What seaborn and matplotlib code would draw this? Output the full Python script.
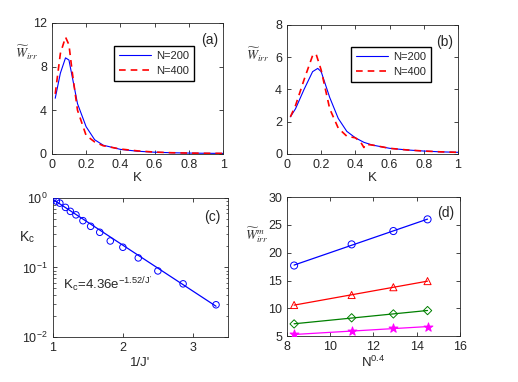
import numpy as np
import pandas as pd
import matplotlib
matplotlib.use("Agg")
import matplotlib.pyplot as plt
import seaborn as sns

sns.set_style("ticks")
plt.rcParams["font.family"] = ["Liberation Sans", "DejaVu Sans"]
plt.rcParams["mathtext.fontset"] = "stix"
plt.rcParams["font.size"] = 8.5

# panel (a)
k_a = [0.02, 0.05, 0.08, 0.10, 0.12, 0.15, 0.20, 0.25, 0.30, 0.40, 0.50, 0.60, 0.70, 0.80, 0.90, 1.00]
w_a_200 = [5.1, 7.4, 8.8, 8.6, 7.0, 4.6, 2.5, 1.3, 0.8, 0.42, 0.25, 0.16, 0.11, 0.08, 0.06, 0.05]
w_a_400 = [5.5, 9.2, 10.7, 10.0, 7.4, 4.0, 1.7, 1.1, 0.75, 0.45, 0.28, 0.17, 0.11, 0.08, 0.06, 0.05]

# panel (b)
k_b = [0.02, 0.05, 0.10, 0.15, 0.18, 0.20, 0.25, 0.30, 0.35, 0.40, 0.45, 0.50, 0.60, 0.70, 0.80, 0.90, 1.00]
w_b_200 = [2.3, 2.8, 4.0, 5.1, 5.3, 5.1, 3.5, 2.2, 1.4, 1.0, 0.72, 0.55, 0.35, 0.25, 0.18, 0.13, 0.1]
k_b4 = [0.02, 0.05, 0.10, 0.15, 0.17, 0.20, 0.25, 0.30, 0.35, 0.40, 0.43, 0.45, 0.46, 0.50, 0.60, 0.70, 0.80, 0.90, 1.00]
w_b_400 = [2.3, 3.0, 4.6, 6.1, 6.2, 5.2, 2.8, 1.6, 1.1, 1.0, 0.75, 0.4, 0.6, 0.55, 0.35, 0.25, 0.18, 0.13, 0.1]

# panel (c)
inv_j = [1.0, 1.05, 1.1, 1.18, 1.25, 1.33, 1.43, 1.54, 1.67, 1.82, 2.0, 2.22, 2.5, 2.86, 3.33]
k_c = [0.96, 0.90, 0.84, 0.73, 0.64, 0.57, 0.47, 0.39, 0.32, 0.24, 0.195, 0.137, 0.089, 0.058, 0.029]
fit_a, fit_b = 4.36, 1.52

# panel (d)
n_pow = [8.33, 10.99, 12.92, 14.5]
series_d = {
    "circle": ([17.7, 21.5, 23.9, 26.0], "#0000ff", "o"),
    "tri": ([10.6, 12.4, 13.8, 14.9], "#ff0000", "^"),
    "diamond": ([7.2, 8.3, 9.0, 9.6], "#008000", "D"),
    "star": ([5.3, 5.9, 6.4, 6.7], "#ff00ff", "*"),
}

fig = plt.figure(figsize=(5.18, 3.82), dpi=100)
ax_a = fig.add_axes([0.100, 0.597, 0.331, 0.343])
ax_b = fig.add_axes([0.554, 0.597, 0.330, 0.338])
ax_c = fig.add_axes([0.102, 0.118, 0.338, 0.364])
ax_d = fig.add_axes([0.554, 0.120, 0.334, 0.364])

wlabel = r"$\widetilde{W}_{irr}$"
leg_kw = dict(loc="upper left", fancybox=False, edgecolor="black", framealpha=1, fontsize=8,
              handlelength=2.9, handletextpad=0.45, borderpad=0.45, labelspacing=0.45)


def style(ax):
    ax.tick_params(direction="in", top=True, right=True, length=3, width=0.6, labelsize=9)
    ax.tick_params(which="minor", direction="in", top=True, right=True, length=1.8, width=0.5)
    for s in ax.spines.values():
        s.set_linewidth(0.6)
        s.set_visible(True)


def ylab(ax, text, x, y):
    ax.set_ylabel(text, rotation=0, fontsize=9.5, ha="center", va="center", color="#333333")
    ax.yaxis.set_label_coords(x, y)


# (a)
sns.lineplot(x=k_a, y=w_a_200, ax=ax_a, color="#0000ff", lw=0.8, label="N=200")
sns.lineplot(x=k_a, y=w_a_400, ax=ax_a, color="#ff0000", lw=1.2, ls=(0, (4, 3)), label="N=400")
ax_a.set_xlim(0, 1)
ax_a.set_ylim(0, 12)
ax_a.set_xticks(np.arange(0, 1.01, 0.2))
ax_a.set_xticklabels(["0", "0.2", "0.4", "0.6", "0.8", "1"])
ax_a.set_yticks([0, 4, 8, 12])
ax_a.set_xlabel("K", fontsize=9.5, labelpad=1)
ylab(ax_a, wlabel, -0.146, 0.77)
ax_a.text(0.92, 0.87, "(a)", transform=ax_a.transAxes, ha="center", va="center", fontsize=10)
ax_a.legend(bbox_to_anchor=(0.33, 0.87), **leg_kw)
style(ax_a)

# (b)
sns.lineplot(x=k_b, y=w_b_200, ax=ax_b, color="#0000ff", lw=0.8, label="N=200")
sns.lineplot(x=k_b4, y=w_b_400, ax=ax_b, color="#ff0000", lw=1.2, ls=(0, (4, 3)), label="N=400")
ax_b.set_xlim(0, 1)
ax_b.set_ylim(0, 8)
ax_b.set_xticks(np.arange(0, 1.01, 0.2))
ax_b.set_xticklabels(["0", "0.2", "0.4", "0.6", "0.8", "1"])
ax_b.set_yticks([0, 2, 4, 6, 8])
ax_b.set_xlabel("K", fontsize=9.5, labelpad=1)
ylab(ax_b, wlabel, -0.17, 0.77)
ax_b.text(0.92, 0.87, "(b)", transform=ax_b.transAxes, ha="center", va="center", fontsize=10)
ax_b.legend(bbox_to_anchor=(0.34, 0.87), **leg_kw)
style(ax_b)

# (c)
xs = np.linspace(inv_j[0], inv_j[-1], 50)
sns.lineplot(x=xs, y=fit_a * np.exp(-fit_b * xs), ax=ax_c, color="#0000ff", lw=0.9)
ax_c.scatter(inv_j, k_c, s=22, facecolors="none", edgecolors="#0000ff", linewidths=0.7, zorder=3)
ax_c.set_yscale("log")
ax_c.set_xlim(1, 3.5)
ax_c.set_ylim(1e-2, 1)
ax_c.set_xticks([1, 2, 3])
ax_c.set_xlabel("1/J'", fontsize=9.5, labelpad=2)
ax_c.set_ylabel(r"K$_\mathregular{c}$", rotation=0, fontsize=10, ha="center", va="center")
ax_c.yaxis.set_label_coords(-0.15, 0.72)
ax_c.text(1.15, 0.058, r"K$_\mathregular{c}$=4.36e$^{\mathregular{-1.52/J'}}$", fontsize=9.5, va="center")
ax_c.text(0.91, 0.86, "(c)", transform=ax_c.transAxes, ha="center", va="center", fontsize=10)
style(ax_c)

# (d)
for name, (vals, col, mk) in series_d.items():
    sns.regplot(x=n_pow, y=vals, ax=ax_d, scatter=False, ci=None, color=col, line_kws={"lw": 0.9})
    size = 45 if mk == "*" else (18 if mk == "D" else 26)
    ax_d.scatter(n_pow, vals, s=size, marker=mk, facecolors="none" if mk != "*" else col,
                 edgecolors=col, linewidths=0.7, zorder=3)
ax_d.set_xlim(8, 16)
ax_d.set_ylim(5, 30)
ax_d.set_xticks([8, 10, 12, 14, 16])
ax_d.set_yticks([5, 10, 15, 20, 25, 30])
ax_d.set_xlabel(r"N$^{\mathregular{0.4}}$", fontsize=9.5, labelpad=1)
ylab(ax_d, r"$\widetilde{W}^{m}_{irr}$", -0.175, 0.73)
ax_d.text(0.92, 0.885, "(d)", transform=ax_d.transAxes, ha="center", va="center", fontsize=10)
style(ax_d)

fig.savefig("out.png", dpi=100, facecolor="white")
